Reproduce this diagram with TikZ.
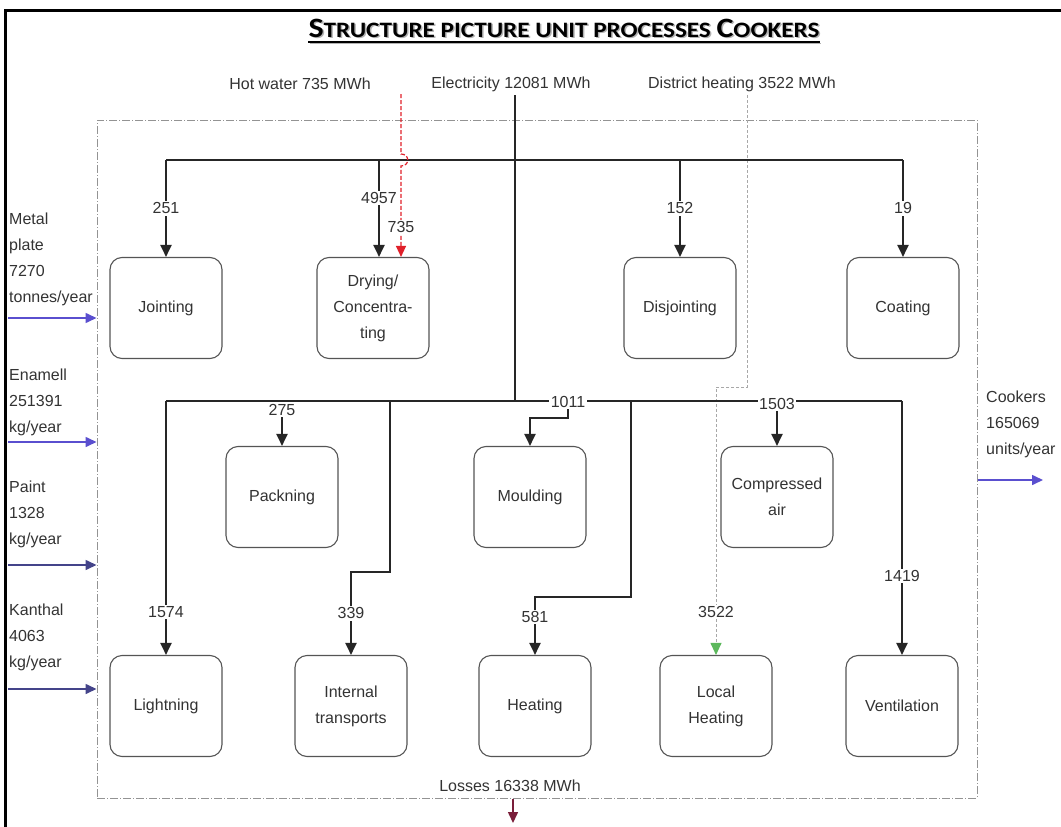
\documentclass[tikz,border=0pt]{standalone}
\usepackage{graphicx}
\usepackage{fontspec}
\setmainfont{Liberation Sans}
\newfontfamily\titlefont{Carlito}
\usetikzlibrary{arrows.meta,calc}

\definecolor{inkgray}{HTML}{333333}
\definecolor{boxgray}{HTML}{555555}
\definecolor{flowblue}{HTML}{5A4FCF}
\definecolor{flowdark}{HTML}{44448A}
\definecolor{hotred}{HTML}{E0202A}
\definecolor{distgray}{HTML}{A8A8A8}
\definecolor{distgreen}{HTML}{5CB85C}
\definecolor{lossred}{HTML}{7A1E3A}

% hand-made small capitals for the heading
\newcommand{\capword}[2]{{\fontsize{28}{30}\selectfont #1}{\fontsize{22}{24}\selectfont #2}}
\newcommand{\headingtext}{\scalebox{1.145}[1]{\titlefont\bfseries\fontsize{22}{24}\selectfont
  \capword{S}{TRUCTURE} \capword{}{PICTURE} \capword{}{UNIT} \capword{}{PROCESSES} \capword{C}{OOKERS}}}

\tikzset{
  proc/.style={draw=boxgray, line width=1.1pt, rounded corners=12pt, fill=white,
    minimum width=112pt, minimum height=101pt, align=center, text=inkgray,
    font=\fontsize{16}{26}\selectfont, inner sep=2pt},
  wire/.style={draw=black!85, line width=2pt},
  feed/.style={wire, -{Triangle[length=12pt,width=11pt]}},
  lbl/.style={fill=white, inner sep=1.5pt, text=inkgray, font=\fontsize{16}{18}\selectfont},
  note/.style={text=inkgray, font=\fontsize{16}{26}\selectfont, align=left, inner sep=0pt},
  inflow/.style={draw=flowblue, line width=1.6pt, -{Triangle[length=11pt,width=10pt]}},
  boundary/.style={draw=gray!85, line width=1pt, dash pattern=on 8pt off 2pt on 1pt off 2pt,
    inner sep=0pt, minimum width=880pt, minimum height=678pt},
}

\begin{document}
\begin{tikzpicture}[x=1pt,y=-1pt]
\useasboundingbox (0,0) rectangle (1061,827);

% page frame
\draw[line width=3pt] (5,827) -- (5,10) -- (1061,10);

% heading with its shadow and underline
\node[inner sep=0pt, text=black!30] at (565.5,29.5) {\headingtext};
\node[inner sep=0pt] (title) at (564,28) {\headingtext};
\draw[black!30, line width=1.8pt] ($(title.base west)+(1.5,6.5)$) -- ($(title.base east)+(1.5,6.5)$);
\draw[line width=1.6pt] ($(title.base west)+(0,5)$) -- ($(title.base east)+(0,5)$);

% energy sources
\node[note] (hw) at (300,84) {Hot water 735 MWh};
\node[note] (el) at (511,84) {Electricity 12081 MWh};
\node[note] (dh) at (742,84) {District heating 3522 MWh};

% system boundary
\node[boundary] (sys) at (537,459) {};

% junctions and bends
\coordinate (hwTop) at (401,94);
\coordinate (hopA) at (401,154);
\coordinate (hopB) at (401,166);
\coordinate (elTop) at (515,95);
\coordinate (elBot) at (515,401);
\coordinate (dhTop) at (747,95);
\coordinate (dhBend) at (747,387);
\coordinate (dhBendB) at (716,387);
\coordinate (b1L) at (166,160);
\coordinate (b1Dry) at (379,160);
\coordinate (b1Dis) at (680,160);
\coordinate (b1R) at (903,160);
\coordinate (b2L) at (166,401);
\coordinate (b2Tr) at (390,401);
\coordinate (b2He) at (631,401);
\coordinate (b2R) at (902,401);
\coordinate (trBend) at (390,572);
\coordinate (heBend) at (631,597);
\coordinate (mBend) at (568,418);

% unit processes
\node[proc] (jointing) at (166,308) {Jointing};
\node[proc] (drying) at (373,308) {Drying/\\Concentra-\\ting};
\node[proc] (disjointing) at (680,308) {Disjointing};
\node[proc] (coating) at (903,308) {Coating};
\node[proc] (packing) at (282,497) {Packning};
\node[proc] (moulding) at (530,497) {Moulding};
\node[proc] (compressed) at (777,497) {Compressed\\air};
\node[proc] (lightning) at (166,706) {Lightning};
\node[proc] (transports) at (351,706) {Internal\\transports};
\node[proc] (heating) at (535,706) {Heating};
\node[proc] (localheat) at (716,706) {Local\\Heating};
\node[proc] (ventilation) at (902,706) {Ventilation};

% district heating feed
\draw[distgray, line width=0.9pt, dash pattern=on 3pt off 2pt,
  -{Triangle[length=12pt,width=11pt,color=distgreen]}]
  (dhTop) -- (dhBend) -- (dhBendB) -- node[lbl,pos=0.84]{3522} (dhBendB |- localheat.north);

% electricity distribution
\draw[wire] (b1L) -- (b1R);
\draw[wire] (elTop) -- (elBot);
\draw[wire] (b2L) -- (b2R);

\draw[feed] (b1L) -- node[lbl]{251} (jointing.north);
\draw[feed] (b1Dry) -- node[lbl,pos=0.39]{4957} (b1Dry |- drying.north);
\draw[feed] (b1Dis) -- node[lbl]{152} (disjointing.north);
\draw[feed] (b1R) -- node[lbl]{19} (coating.north);

\node[lbl] (l275) at (282,410) {275};
\node[lbl] (l1011) at (568,402) {1011};
\node[lbl] (l1503) at (777,404) {1503};
\draw[feed] (l275.south) -- (packing.north);
\draw[feed] (l1011.south) |- (mBend) -| (moulding.north);
\draw[feed] (l1503.south) -- (compressed.north);

\draw[feed] (b2L) -- node[lbl,pos=0.83]{1574} (lightning.north);
\draw[feed] (b2Tr) -- (trBend) -| node[lbl,pos=0.75]{339} (transports.north);
\draw[feed] (b2He) -- (heBend) -| node[lbl,pos=0.67]{581} (heating.north);
\draw[feed] (b2R) -- node[lbl,pos=0.69]{1419} (ventilation.north);

% hot water feed, hopping over the electricity bus
\draw[hotred, line width=1.2pt, dash pattern=on 4pt off 2pt,
  -{Triangle[length=11pt,width=10pt]}]
  (hwTop) -- (hopA) .. controls (410,154) and (410,166) .. (hopB)
  -- node[lbl,pos=0.67]{735} (hopB |- drying.north);

% material inputs
\node[note, anchor=west] (metal) at (9,259) {Metal\\plate\\7270\\tonnes/year};
\node[note, anchor=west] (enamel) at (9,402) {Enamell\\251391\\kg/year};
\node[note, anchor=west] (paint) at (9,514) {Paint\\1328\\kg/year};
\node[note, anchor=west] (kanthal) at (9,637) {Kanthal\\4063\\kg/year};
\coordinate (inMetal) at (8,318);
\coordinate (inEnamel) at (8,442);
\coordinate (inPaint) at (8,565);
\coordinate (inKanthal) at (8,689);
\draw[inflow] (inMetal) -- (inMetal -| sys.west);
\draw[inflow] (inEnamel) -- (inEnamel -| sys.west);
\draw[inflow, draw=flowdark] (inPaint) -- (inPaint -| sys.west);
\draw[inflow, draw=flowdark] (inKanthal) -- (inKanthal -| sys.west);

% product output
\node[note, anchor=west] (cookers) at (986,424) {Cookers\\165069\\units/year};
\coordinate (outEnd) at (1043,480);
\draw[inflow] (sys.east |- outEnd) -- (outEnd);

% losses
\node[note] (losses) at (510,786) {Losses 16338 MWh};
\coordinate (lossEnd) at (513,823);
\draw[lossred, line width=1.5pt, -{Triangle[length=11pt,width=10pt]}]
  (sys.south -| lossEnd) -- (lossEnd);
\end{tikzpicture}
\end{document}
